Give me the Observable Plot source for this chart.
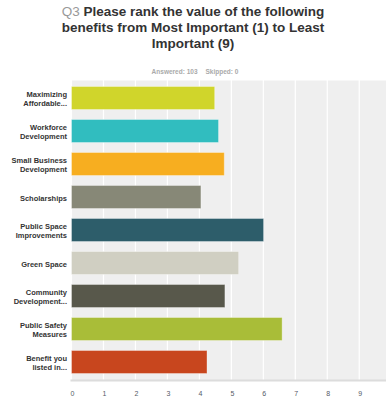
<!DOCTYPE html>
<html>
<head>
<meta charset="utf-8">
<script src="https://cdn.jsdelivr.net/npm/d3@7"></script>
<script src="https://cdn.jsdelivr.net/npm/@observablehq/plot@0.6"></script>
<style>
  html, body { margin: 0; padding: 0; background: #fff; }
  #wrap { position: relative; width: 386px; height: 400px; overflow: hidden; font-family: "Liberation Sans", Arial, sans-serif; }
  #title { position: absolute; top: 4px; left: 0; width: 386px; text-align: center; font-weight: bold; font-size: 13.5px; line-height: 16px; color: #333; }
  #title .q { color: #999; font-weight: normal; }
  #sub { position: absolute; top: 67px; left: 2px; width: 386px; text-align: center; font-size: 6.5px; font-weight: bold; line-height: 10px; color: #aaa; }
  #sub span { margin: 0 4px; }
  #chart { position: absolute; top: 76px; left: 0; }
</style>
</head>
<body>
<div id="wrap">
  <div id="title"><span class="q">Q3</span> Please rank the value of the following<br>benefits from Most Important (1) to Least<br>Important (9)</div>
  <div id="sub"><span>Answered: 103</span><span>Skipped: 0</span></div>
  <div id="chart"></div>
</div>
<script>
const categories = [
  "Maximizing Affordable...",
  "Workforce Development",
  "Small Business Development",
  "Scholarships",
  "Public Space Improvements",
  "Green Space",
  "Community Development...",
  "Public Safety Measures",
  "Benefit you listed in..."
];
const tickLabels = [
  "Maximizing\nAffordable...",
  "Workforce\nDevelopment",
  "Small Business\nDevelopment",
  "Scholarships",
  "Public Space\nImprovements",
  "Green Space",
  "Community\nDevelopment...",
  "Public Safety\nMeasures",
  "Benefit you\nlisted in..."
];
const values = [4.51, 4.63, 4.81, 4.08, 6.04, 5.26, 4.83, 6.62, 4.27];
const colors = ["#d0d52b", "#31bdbf", "#f7ae20", "#878877", "#2d5d6a", "#d0cfc2", "#58584b", "#a9bd38", "#c8461e"];
const xTicks = [0, 1, 2, 3, 4, 5, 6, 7, 8, 9, 10];

const data = categories.map((c, i) => ({category: c, value: values[i], color: colors[i]}));
const labelOf = new Map(categories.map((c, i) => [c, tickLabels[i]]));

const chart = Plot.plot({
  width: 386,
  height: 324,
  marginTop: 4,
  marginBottom: 20,
  marginLeft: 71,
  marginRight: 0,
  style: {fontFamily: "'Liberation Sans', Arial, sans-serif", background: "transparent", overflow: "visible"},
  x: {domain: [0, 9.853], ticks: xTicks},
  y: {domain: categories, paddingInner: 0.28, paddingOuter: 0.14},
  marks: [
    Plot.frame({fill: "#efefef", stroke: null}),
    Plot.gridX(xTicks.slice(0, 10), {stroke: "#ffffff", strokeOpacity: 1, strokeWidth: 1.2}),
    Plot.barX(data, {x: "value", y: "category", fill: "color", stroke: "#ffffff", strokeOpacity: 0.35, strokeWidth: 1, inset: 0.5}),
    Plot.frame({anchor: "bottom", stroke: "#dcdcdc", strokeWidth: 2}),
    Plot.axisX(xTicks, {tickSize: 0, tickPadding: 11, fontSize: 7, fill: "#555a66", dx: 1, label: null}),
    Plot.axisY({tickSize: 0, tickPadding: 4.5, fontSize: 7.5, fontWeight: "bold", fill: "#333", lineHeight: 1.25, tickFormat: d => labelOf.get(d), label: null})
  ]
});
document.getElementById("chart").appendChild(chart);
</script>
</body>
</html>
